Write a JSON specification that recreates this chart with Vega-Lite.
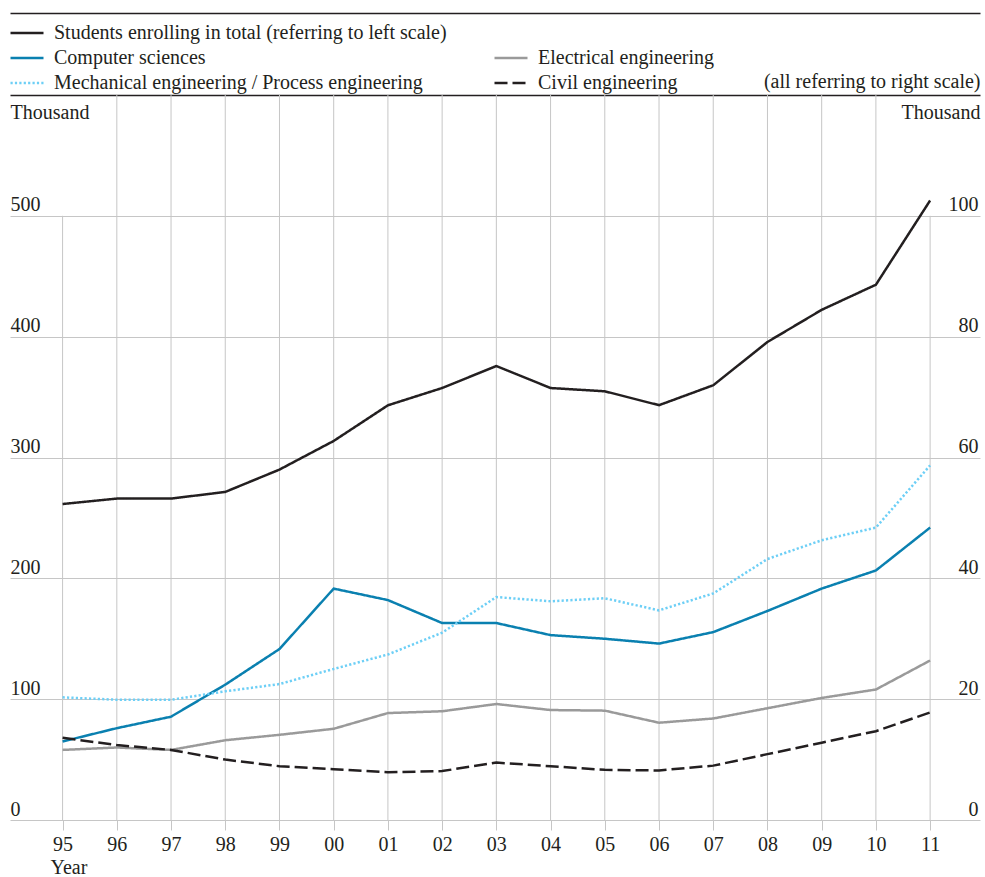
{
  "$schema": "https://vega.github.io/schema/vega-lite/v6.json",
  "width": 970,
  "height": 725,
  "autosize": {"type": "none"},
  "padding": {"left": 10, "top": 95, "right": 5, "bottom": 57},
  "background": "#ffffff",
  "config": {
    "view": {"stroke": null},
    "font": "Liberation Serif",
    "axis": {"labelFont": "Liberation Serif", "titleFont": "Liberation Serif", "labelFontSize": 20, "titleFontSize": 20, "labelColor": "#231f20", "titleColor": "#231f20", "titleFontWeight": "normal"},
    "legend": {"labelFont": "Liberation Serif", "labelFontSize": 20, "labelColor": "#231f20", "labelLimit": 0}
  },
  "data": {"values": [
    {"year": 1995, "series": "Students enrolling in total (referring to left scale)", "value": 261.5},
    {"year": 1996, "series": "Students enrolling in total (referring to left scale)", "value": 266},
    {"year": 1997, "series": "Students enrolling in total (referring to left scale)", "value": 266},
    {"year": 1998, "series": "Students enrolling in total (referring to left scale)", "value": 271.5},
    {"year": 1999, "series": "Students enrolling in total (referring to left scale)", "value": 290},
    {"year": 2000, "series": "Students enrolling in total (referring to left scale)", "value": 313.7},
    {"year": 2001, "series": "Students enrolling in total (referring to left scale)", "value": 343.2},
    {"year": 2002, "series": "Students enrolling in total (referring to left scale)", "value": 357.5},
    {"year": 2003, "series": "Students enrolling in total (referring to left scale)", "value": 375.7},
    {"year": 2004, "series": "Students enrolling in total (referring to left scale)", "value": 357.5},
    {"year": 2005, "series": "Students enrolling in total (referring to left scale)", "value": 354.8},
    {"year": 2006, "series": "Students enrolling in total (referring to left scale)", "value": 343.3},
    {"year": 2007, "series": "Students enrolling in total (referring to left scale)", "value": 359.8},
    {"year": 2008, "series": "Students enrolling in total (referring to left scale)", "value": 395.6},
    {"year": 2009, "series": "Students enrolling in total (referring to left scale)", "value": 422.2},
    {"year": 2010, "series": "Students enrolling in total (referring to left scale)", "value": 443},
    {"year": 2011, "series": "Students enrolling in total (referring to left scale)", "value": 512.7},
    {"year": 1995, "series": "Computer sciences", "value": 13.0},
    {"year": 1996, "series": "Computer sciences", "value": 15.2},
    {"year": 1997, "series": "Computer sciences", "value": 17.1},
    {"year": 1998, "series": "Computer sciences", "value": 22.4},
    {"year": 1999, "series": "Computer sciences", "value": 28.3},
    {"year": 2000, "series": "Computer sciences", "value": 38.3},
    {"year": 2001, "series": "Computer sciences", "value": 36.4},
    {"year": 2002, "series": "Computer sciences", "value": 32.6},
    {"year": 2003, "series": "Computer sciences", "value": 32.6},
    {"year": 2004, "series": "Computer sciences", "value": 30.6},
    {"year": 2005, "series": "Computer sciences", "value": 30.0},
    {"year": 2006, "series": "Computer sciences", "value": 29.2},
    {"year": 2007, "series": "Computer sciences", "value": 31.1},
    {"year": 2008, "series": "Computer sciences", "value": 34.6},
    {"year": 2009, "series": "Computer sciences", "value": 38.3},
    {"year": 2010, "series": "Computer sciences", "value": 41.3},
    {"year": 2011, "series": "Computer sciences", "value": 48.4},
    {"year": 1995, "series": "Electrical engineering", "value": 11.6},
    {"year": 1996, "series": "Electrical engineering", "value": 12.0},
    {"year": 1997, "series": "Electrical engineering", "value": 11.6},
    {"year": 1998, "series": "Electrical engineering", "value": 13.2},
    {"year": 1999, "series": "Electrical engineering", "value": 14.1},
    {"year": 2000, "series": "Electrical engineering", "value": 15.1},
    {"year": 2001, "series": "Electrical engineering", "value": 17.7},
    {"year": 2002, "series": "Electrical engineering", "value": 18.0},
    {"year": 2003, "series": "Electrical engineering", "value": 19.2},
    {"year": 2004, "series": "Electrical engineering", "value": 18.2},
    {"year": 2005, "series": "Electrical engineering", "value": 18.1},
    {"year": 2006, "series": "Electrical engineering", "value": 16.1},
    {"year": 2007, "series": "Electrical engineering", "value": 16.8},
    {"year": 2008, "series": "Electrical engineering", "value": 18.5},
    {"year": 2009, "series": "Electrical engineering", "value": 20.2},
    {"year": 2010, "series": "Electrical engineering", "value": 21.6},
    {"year": 2011, "series": "Electrical engineering", "value": 26.4},
    {"year": 1995, "series": "Mechanical engineering / Process engineering", "value": 20.3},
    {"year": 1996, "series": "Mechanical engineering / Process engineering", "value": 19.9},
    {"year": 1997, "series": "Mechanical engineering / Process engineering", "value": 19.9},
    {"year": 1998, "series": "Mechanical engineering / Process engineering", "value": 21.3},
    {"year": 1999, "series": "Mechanical engineering / Process engineering", "value": 22.5},
    {"year": 2000, "series": "Mechanical engineering / Process engineering", "value": 25.0},
    {"year": 2001, "series": "Mechanical engineering / Process engineering", "value": 27.4},
    {"year": 2002, "series": "Mechanical engineering / Process engineering", "value": 31.0},
    {"year": 2003, "series": "Mechanical engineering / Process engineering", "value": 36.9},
    {"year": 2004, "series": "Mechanical engineering / Process engineering", "value": 36.2},
    {"year": 2005, "series": "Mechanical engineering / Process engineering", "value": 36.7},
    {"year": 2006, "series": "Mechanical engineering / Process engineering", "value": 34.7},
    {"year": 2007, "series": "Mechanical engineering / Process engineering", "value": 37.5},
    {"year": 2008, "series": "Mechanical engineering / Process engineering", "value": 43.2},
    {"year": 2009, "series": "Mechanical engineering / Process engineering", "value": 46.3},
    {"year": 2010, "series": "Mechanical engineering / Process engineering", "value": 48.4},
    {"year": 2011, "series": "Mechanical engineering / Process engineering", "value": 58.7},
    {"year": 1995, "series": "Civil engineering", "value": 13.6},
    {"year": 1996, "series": "Civil engineering", "value": 12.4},
    {"year": 1997, "series": "Civil engineering", "value": 11.6},
    {"year": 1998, "series": "Civil engineering", "value": 10.0},
    {"year": 1999, "series": "Civil engineering", "value": 8.9},
    {"year": 2000, "series": "Civil engineering", "value": 8.4},
    {"year": 2001, "series": "Civil engineering", "value": 7.9},
    {"year": 2002, "series": "Civil engineering", "value": 8.1},
    {"year": 2003, "series": "Civil engineering", "value": 9.5},
    {"year": 2004, "series": "Civil engineering", "value": 8.9},
    {"year": 2005, "series": "Civil engineering", "value": 8.3},
    {"year": 2006, "series": "Civil engineering", "value": 8.2},
    {"year": 2007, "series": "Civil engineering", "value": 9.0},
    {"year": 2008, "series": "Civil engineering", "value": 10.9},
    {"year": 2009, "series": "Civil engineering", "value": 12.8},
    {"year": 2010, "series": "Civil engineering", "value": 14.7},
    {"year": 2011, "series": "Civil engineering", "value": 17.8}
  ]},
  "layer": [
    {
      "encoding": {
        "x": {"field": "year", "type": "quantitative", "scale": {"domain": [1994.03, 2011.92], "nice": false, "zero": false},
          "axis": {"orient": "bottom", "values": [1995,1996,1997,1998,1999,2000,2001,2002,2003,2004,2005,2006,2007,2008,2009,2010,2011],
            "labelExpr": "substring(toString(datum.value), 2, 4)", "grid": false, "domain": false, "ticks": true, "tickSize": 10, "tickColor": "#c6c6c6", "tickWidth": 1,
            "labelPadding": 20, "labelBaseline": "alphabetic", "labelAlign": "center", "labelFlush": false, "labelOverlap": false,
            "title": "Year", "titleX": 40, "titleY": 53, "titleAlign": "left", "titleBaseline": "alphabetic"}}
      },
      "layer": [
        {
          "transform": [{"filter": "datum.series === 'Computer sciences' && datum.year > 1995 && datum.year < 2011"}],
          "mark": {"type": "rule", "color": "#c6c6c6", "strokeWidth": 1},
          "encoding": {
            "y": {"datum": 600, "type": "quantitative", "scale": {"domain": [0, 600], "nice": false},
              "axis": {"orient": "left", "values": [0, 100, 200, 300, 400, 500, 600], "grid": true,
                "gridColor": {"condition": {"test": "datum.value === 600", "value": "#231f20"}, "value": "#c6c6c6"},
                "gridWidth": {"condition": {"test": "datum.value === 600", "value": 1.5}, "value": 1},
                "domain": false, "ticks": false, "tickSize": 0, "labelAlign": "left", "labelPadding": 0, "labelBaseline": "alphabetic", "labelOffset": -5,
                "labelExpr": "datum.value === 600 ? '' : datum.label",
                "title": "Thousand", "titleAngle": 0, "titleAlign": "left", "titleBaseline": "alphabetic", "titleX": 0, "titleY": 23}},
            "y2": {"datum": 0}
          }
        },
        {
          "transform": [{"filter": "datum.series === 'Computer sciences' && (datum.year === 1995 || datum.year === 2011)"}],
          "mark": {"type": "rule", "color": "#c6c6c6", "strokeWidth": 1},
          "encoding": {
            "y": {"datum": 500, "type": "quantitative"},
            "y2": {"datum": 0}
          }
        }
      ]
    },
    {
      "transform": [{"filter": "datum.series === 'Students enrolling in total (referring to left scale)'"}],
      "mark": {"type": "line", "strokeWidth": 2.5},
      "encoding": {
        "x": {"field": "year", "type": "quantitative", "scale": {"domain": [1994.03, 2011.92], "nice": false, "zero": false},
          "axis": {"orient": "top", "offset": 82, "domain": true, "domainColor": "#231f20", "domainWidth": 1.5, "labels": false, "ticks": false, "grid": false, "title": null}},
        "y": {"field": "value", "type": "quantitative", "scale": {"domain": [0, 600], "nice": false},
          "axis": {"orient": "right", "domain": false, "ticks": false, "labels": false, "grid": false,
            "title": "(all referring to right scale)", "titleAngle": 0, "titleAlign": "right", "titleBaseline": "alphabetic", "titleX": 0, "titleY": -8}},
        "color": {"field": "series", "type": "nominal",
          "scale": {"domain": ["Students enrolling in total (referring to left scale)", "Computer sciences", "Mechanical engineering / Process engineering", " ", "Electrical engineering", "Civil engineering"],
                    "range": ["#231f20", "#0a80b0", "#6dcff6", "transparent", "#9a9a9a", "#231f20"]},
          "legend": {"title": null, "orient": "none", "legendX": 7, "legendY": -72, "columns": 2, "columnPadding": 42, "rowPadding": 5, "symbolType": "M-2,0H2", "symbolSize": 272.25, "symbolStrokeWidth": 2.5, "labelOffset": 17, "padding": 0}},
        "strokeDash": {"field": "series", "type": "nominal",
          "scale": {"domain": ["Students enrolling in total (referring to left scale)", "Computer sciences", "Mechanical engineering / Process engineering", " ", "Electrical engineering", "Civil engineering"],
                    "range": [[1, 0], [1, 0], [2.2, 2.2], [1, 0], [1, 0], [13, 5]]},
          "legend": {"title": null, "orient": "none", "legendX": 7, "legendY": -72, "columns": 2, "columnPadding": 42, "rowPadding": 5, "symbolType": "M-2,0H2", "symbolSize": 272.25, "symbolStrokeWidth": 2.5, "labelOffset": 17, "padding": 0}}
      }
    },
    {
      "transform": [{"filter": "datum.series !== 'Students enrolling in total (referring to left scale)'"}],
      "mark": {"type": "line", "strokeWidth": 2.5},
      "encoding": {
        "x": {"field": "year", "type": "quantitative", "scale": {"domain": [1994.03, 2011.92], "nice": false, "zero": false}, "axis": null},
        "y": {"field": "value", "type": "quantitative", "scale": {"domain": [0, 120], "nice": false},
          "axis": {"orient": "right", "values": [0, 20, 40, 60, 80, 100], "domain": false, "ticks": false, "tickSize": 0, "grid": false,
            "labelAlign": "right", "labelPadding": -2, "labelBaseline": "alphabetic", "labelOffset": -5,
            "title": "Thousand", "titleAngle": 0, "titleAlign": "right", "titleBaseline": "alphabetic", "titleX": 0, "titleY": 23}},
        "color": {"field": "series", "type": "nominal",
          "scale": {"domain": ["Students enrolling in total (referring to left scale)", "Computer sciences", "Mechanical engineering / Process engineering", " ", "Electrical engineering", "Civil engineering"],
                    "range": ["#231f20", "#0a80b0", "#6dcff6", "transparent", "#9a9a9a", "#231f20"]},
          "legend": {"title": null, "orient": "none", "legendX": 7, "legendY": -72, "columns": 2, "columnPadding": 42, "rowPadding": 5, "symbolType": "M-2,0H2", "symbolSize": 272.25, "symbolStrokeWidth": 2.5, "labelOffset": 17, "padding": 0}},
        "strokeDash": {"field": "series", "type": "nominal",
          "scale": {"domain": ["Students enrolling in total (referring to left scale)", "Computer sciences", "Mechanical engineering / Process engineering", " ", "Electrical engineering", "Civil engineering"],
                    "range": [[1, 0], [1, 0], [2.2, 2.2], [1, 0], [1, 0], [13, 5]]},
          "legend": {"title": null, "orient": "none", "legendX": 7, "legendY": -72, "columns": 2, "columnPadding": 42, "rowPadding": 5, "symbolType": "M-2,0H2", "symbolSize": 272.25, "symbolStrokeWidth": 2.5, "labelOffset": 17, "padding": 0}}
      }
    }
  ],
  "resolve": {"scale": {"y": "independent"}, "axis": {"x": "independent", "y": "independent"}}
}
